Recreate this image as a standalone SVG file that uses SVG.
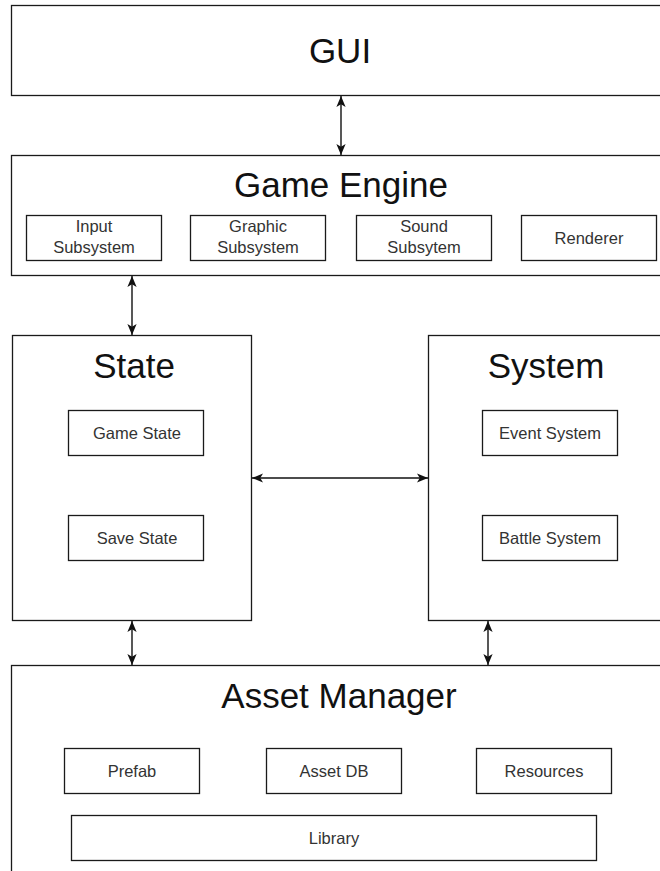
<svg xmlns="http://www.w3.org/2000/svg" width="660" height="871" viewBox="0 0 660 871">
  <style>
    .box { fill: #ffffff; stroke: #1a1a1a; stroke-width: 1.3; }
    .title { font-family: "Liberation Sans", Arial, sans-serif; font-size: 35px; fill: #111111; text-anchor: middle; }
    .label { font-family: "Liberation Sans", Arial, sans-serif; font-size: 16.5px; fill: #333333; text-anchor: middle; }
    .conn { stroke: #111111; stroke-width: 1.4; fill: none; marker-start: url(#arr); marker-end: url(#arr); }
  </style>
  <defs>
    <marker id="arr" viewBox="0 0 10 10" refX="10" refY="5" markerWidth="11" markerHeight="11" markerUnits="userSpaceOnUse" orient="auto-start-reverse">
      <path d="M0,0.8 L10,5 L0,9.2 L2.5,5 Z" fill="#111111"/>
    </marker>
  </defs>
  <rect width="660" height="871" fill="#ffffff"/>

  <g id="gui">
    <rect class="box" x="11.5" y="5.5" width="680" height="90"/>
    <text class="title" x="340" y="63">GUI</text>
  </g>

  <g id="game-engine">
    <rect class="box" x="11.5" y="155.5" width="680" height="120"/>
    <text class="title" x="341" y="197">Game Engine</text>
  </g>
  <g id="input-subsystem">
    <rect class="box" x="26.5" y="215.5" width="135" height="45"/>
    <text class="label" x="94" y="232">Input</text>
    <text class="label" x="94" y="253">Subsystem</text>
  </g>
  <g id="graphic-subsystem">
    <rect class="box" x="190.5" y="215.5" width="135" height="45"/>
    <text class="label" x="258" y="232">Graphic</text>
    <text class="label" x="258" y="253">Subsystem</text>
  </g>
  <g id="sound-subsystem">
    <rect class="box" x="356.5" y="215.5" width="135" height="45"/>
    <text class="label" x="424" y="232">Sound</text>
    <text class="label" x="424" y="253">Subsytem</text>
  </g>
  <g id="renderer">
    <rect class="box" x="521.5" y="215.5" width="135" height="45"/>
    <text class="label" x="589" y="244">Renderer</text>
  </g>

  <g id="state">
    <rect class="box" x="12.5" y="335.5" width="239" height="285"/>
    <text class="title" x="134" y="378">State</text>
  </g>
  <g id="game-state">
    <rect class="box" x="68.5" y="410.5" width="135" height="45"/>
    <text class="label" x="137" y="439">Game State</text>
  </g>
  <g id="save-state">
    <rect class="box" x="68.5" y="515.5" width="135" height="45"/>
    <text class="label" x="137" y="544">Save State</text>
  </g>

  <g id="system">
    <rect class="box" x="428.5" y="335.5" width="250" height="285"/>
    <text class="title" x="546" y="378">System</text>
  </g>
  <g id="event-system">
    <rect class="box" x="482.5" y="410.5" width="135" height="45"/>
    <text class="label" x="550" y="439">Event System</text>
  </g>
  <g id="battle-system">
    <rect class="box" x="482.5" y="515.5" width="135" height="45"/>
    <text class="label" x="550" y="544">Battle System</text>
  </g>

  <g id="asset-manager">
    <rect class="box" x="11.5" y="665.5" width="680" height="230"/>
    <text class="title" x="339" y="708">Asset Manager</text>
  </g>
  <g id="prefab">
    <rect class="box" x="64.5" y="748.5" width="135" height="45"/>
    <text class="label" x="132" y="777">Prefab</text>
  </g>
  <g id="asset-db">
    <rect class="box" x="266.5" y="748.5" width="135" height="45"/>
    <text class="label" x="334" y="777">Asset DB</text>
  </g>
  <g id="resources">
    <rect class="box" x="476.5" y="748.5" width="135" height="45"/>
    <text class="label" x="544" y="777">Resources</text>
  </g>
  <g id="library">
    <rect class="box" x="71.5" y="815.5" width="525" height="45"/>
    <text class="label" x="334" y="844">Library</text>
  </g>

  <g id="connectors">
    <line class="conn" x1="341" y1="96" x2="341" y2="155"/>
    <line class="conn" x1="132" y1="276" x2="132" y2="335"/>
    <line class="conn" x1="252" y1="478" x2="428" y2="478"/>
    <line class="conn" x1="132" y1="621" x2="132" y2="665"/>
    <line class="conn" x1="488" y1="621" x2="488" y2="665"/>
  </g>
</svg>
